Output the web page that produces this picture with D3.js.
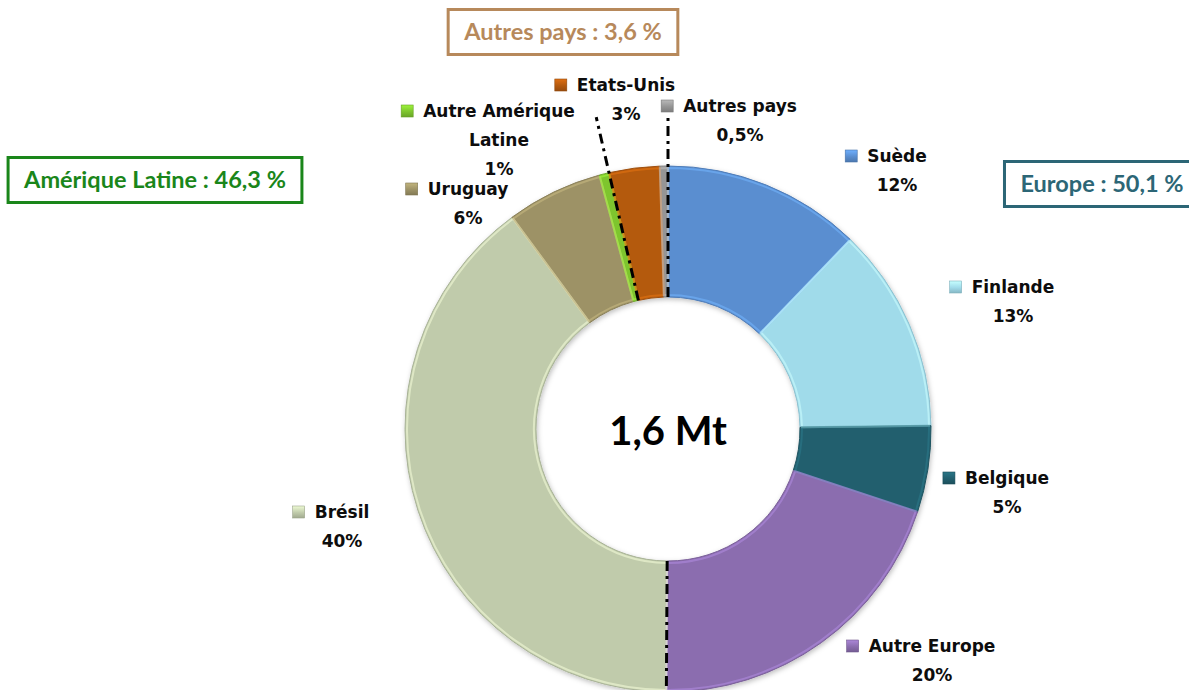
<!DOCTYPE html>
<html>
<head>
<meta charset="utf-8">
<script src="https://cdn.jsdelivr.net/npm/d3@7"></script>
<style>
  html, body { margin: 0; padding: 0; background: #ffffff; overflow: hidden; }
  svg { display: block; }
</style>
</head>
<body>
<svg id="chart" width="1189" height="690"></svg>
<script>
// ---------------- DATA ----------------
const categories = ["Suède", "Finlande", "Belgique", "Autre Europe", "Brésil", "Uruguay", "Autre Amérique Latine", "Etats-Unis", "Autres pays"];
const values = [12.2, 12.6, 5.3, 20.0, 39.8, 5.9, 0.6, 3.1, 0.5];
const pctLabels = ["12%", "13%", "5%", "20%", "40%", "6%", "1%", "3%", "0,5%"];
const nameLines = [["Suède"], ["Finlande"], ["Belgique"], ["Autre Europe"], ["Brésil"], ["Uruguay"], ["Autre Amérique", "Latine"], ["Etats-Unis"], ["Autres pays"]];
const colors = ["#5a8ed0", "#a0dbea", "#225f6e", "#8b6daf", "#c0cbab", "#9d9266", "#7ec52f", "#b45a0f", "#959595"];
const centerLabel = "1,6 Mt";
const groupLabels = ["Amérique Latine : 46,3 %", "Europe : 50,1 %", "Autres pays : 3,6 %"];
const groupColors = ["#1a861a", "#2c6676", "#b7895b"];
// group boundaries: index of the first slice of each group (line drawn at its start angle)
const groupStarts = [0, 4, 7];

// ---------------- LAYOUT ----------------
const W = 1189, H = 690;
const cx = 668, cy = 429;
const outerR = 263, innerR = 132;
// label anchors (text centre, first baseline) relative to donut centre
const labelPos = [[229, -267], [345, -136], [339, 55], [264, 223], [-326, 89], [-200, -234], [-169, -312], [-42, -338], [72, -317]];
const lineGap = 29;
// group boxes: centre positions
const boxPos = [[155, 180], [1102, 184], [563, 32]];
const boxH = 45, boxPad = 16;
// dashed separators: outer extent radius per group start
const sepExtent = [314, 266, 320];

const svg = d3.select("#chart");
const defs = svg.append("defs");

const shadow = defs.append("filter").attr("id", "shadow")
  .attr("x", "-10%").attr("y", "-10%").attr("width", "120%").attr("height", "120%");
shadow.append("feDropShadow").attr("dx", 1).attr("dy", 2).attr("stdDeviation", 2.5)
  .attr("flood-color", "#000").attr("flood-opacity", 0.25);

// bevel-ish gradient for legend markers
colors.forEach((c, i) => {
  const g = defs.append("linearGradient").attr("id", "mk" + i)
    .attr("x1", 0).attr("y1", 0).attr("x2", 0).attr("y2", 1);
  g.append("stop").attr("offset", "0%").attr("stop-color", d3.color(c).brighter(0.6));
  g.append("stop").attr("offset", "55%").attr("stop-color", c);
  g.append("stop").attr("offset", "100%").attr("stop-color", d3.color(c).darker(0.5));
});

const pie = d3.pie().sort(null).value(d => d).startAngle(0).endAngle(2 * Math.PI);
const arcs = pie(values);
const arc = d3.arc().innerRadius(innerR).outerRadius(outerR);
const arcInner = d3.arc().innerRadius(innerR + 2).outerRadius(outerR - 2);

const g = svg.append("g").attr("transform", `translate(${cx},${cy})`);
const donut = g.append("g").attr("filter", "url(#shadow)");

donut.selectAll("path.slice").data(arcs).enter().append("path")
  .attr("class", "slice")
  .attr("d", arc)
  .attr("fill", (d, i) => colors[i])
  .attr("stroke", (d, i) => d3.color(colors[i]).darker(0.35))
  .attr("stroke-width", 1);

// light bevel highlight
g.selectAll("path.hl").data(arcs).enter().append("path")
  .attr("class", "hl")
  .attr("d", arcInner)
  .attr("fill", "none")
  .attr("stroke", (d, i) => d3.color(colors[i]).brighter(0.7))
  .attr("stroke-opacity", 0.55)
  .attr("stroke-width", 2);

// dashed group separators
groupStarts.forEach((idx, k) => {
  const a = arcs[idx].startAngle;
  const r1 = innerR, r2 = sepExtent[k];
  g.append("line")
    .attr("x1", Math.sin(a) * r1).attr("y1", -Math.cos(a) * r1)
    .attr("x2", Math.sin(a) * r2).attr("y2", -Math.cos(a) * r2)
    .attr("stroke", "#000").attr("stroke-width", 3)
    .attr("stroke-dasharray", "10,5,3,5");
});

// centre label
g.append("text").attr("x", 0).attr("y", 16)
  .attr("text-anchor", "middle")
  .style("font-family", "Lato, 'Open Sans', sans-serif")
  .style("font-weight", 700).style("font-size", "40px")
  .attr("fill", "#000").text(centerLabel);

// slice labels
const labelFont = "'DejaVu Sans', sans-serif";
arcs.forEach((d, i) => {
  const [dx, dy] = labelPos[i];
  const lg = g.append("g");
  const lines = nameLines[i].concat([pctLabels[i]]);
  let firstW = 0;
  lines.forEach((t, j) => {
    const tx = lg.append("text")
      .attr("x", dx).attr("y", dy + j * lineGap)
      .attr("text-anchor", "middle")
      .style("font-family", labelFont).style("font-weight", 700)
      .style("font-size", "17px").attr("fill", "#0d0d0d")
      .text(t);
    if (j === 0) firstW = tx.node().getComputedTextLength();
  });
  const mx = dx - firstW / 2 - 10 - 12;
  lg.append("rect")
    .attr("x", mx).attr("y", dy - 12)
    .attr("width", 12).attr("height", 12)
    .attr("fill", `url(#mk${i})`)
    .attr("stroke", d3.color(colors[i]).darker(0.6)).attr("stroke-width", 0.6);
});

// group boxes
groupLabels.forEach((t, k) => {
  const [bx, by] = boxPos[k];
  const bg = svg.append("g");
  const tx = bg.append("text")
    .attr("x", bx).attr("y", by).attr("dy", "0.35em")
    .attr("text-anchor", "middle")
    .style("font-family", "Lato, 'Open Sans', sans-serif")
    .style("font-weight", 700).style("font-size", "23.5px")
    .attr("fill", groupColors[k]).text(t);
  const w = tx.node().getComputedTextLength() + 2 * boxPad;
  bg.insert("rect", "text")
    .attr("x", bx - w / 2).attr("y", by - boxH / 2)
    .attr("width", w).attr("height", boxH)
    .attr("fill", "#fff")
    .attr("stroke", groupColors[k]).attr("stroke-width", 3);
});
</script>
</body>
</html>
